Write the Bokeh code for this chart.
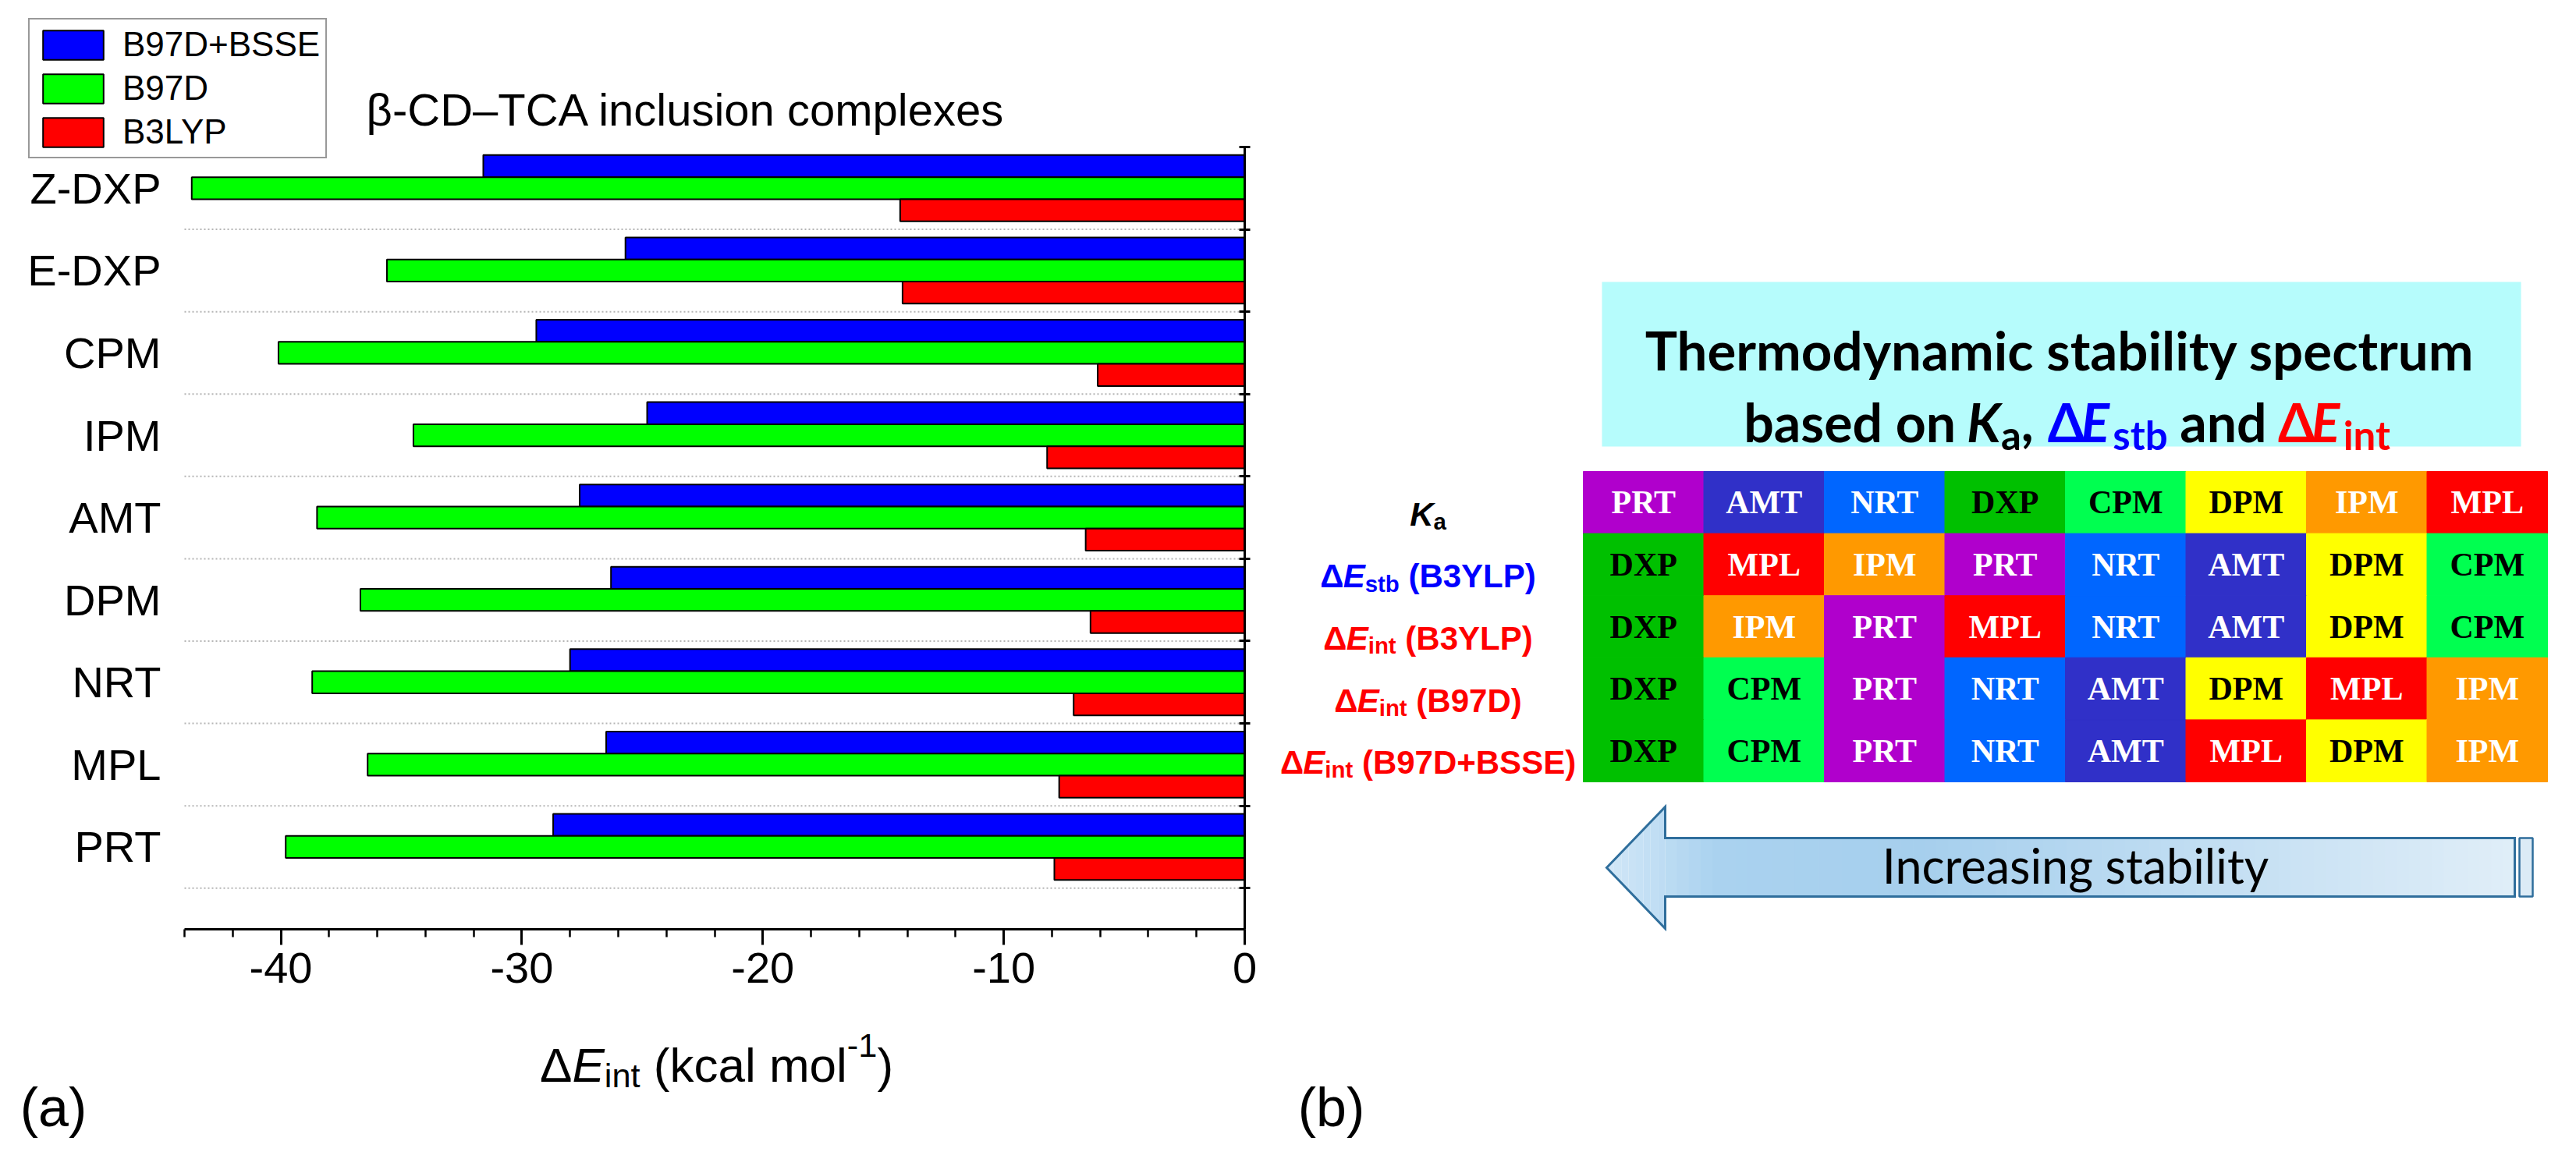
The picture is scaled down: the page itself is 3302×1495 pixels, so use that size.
import numpy as np
from bokeh.plotting import figure
from bokeh.models import (Range1d, FixedTicker, Label, Legend, LegendItem,
                          LinearAxis, ColumnDataSource)
from bokeh.transform import dodge
from bokeh.layouts import row
from bokeh.embed import file_html
from bokeh.resources import INLINE
from bokeh.core.properties import value

# ---------------- data ----------------
compounds = ["Z-DXP", "E-DXP", "CPM", "IPM", "AMT", "DPM", "NRT", "MPL", "PRT"]
e_b97d_bsse = [-31.6, -25.7, -29.4, -24.8, -27.6, -26.3, -28.0, -26.5, -28.7]
e_b97d = [-43.7, -35.6, -40.1, -34.5, -38.5, -36.7, -38.7, -36.4, -39.8]
e_b3lyp = [-14.3, -14.2, -6.1, -8.2, -6.6, -6.4, -7.1, -7.7, -7.9]
series_names = ["B97D+BSSE", "B97D", "B3LYP"]
x_major_ticks = [-40, -30, -20, -10, 0]
x_tick_labels = ["-40", "-30", "-20", "-10", "0"]

rank_ka = ["PRT", "AMT", "NRT", "DXP", "CPM", "DPM", "IPM", "MPL"]
rank_estb_b3lyp = ["DXP", "MPL", "IPM", "PRT", "NRT", "AMT", "DPM", "CPM"]
rank_eint_b3lyp = ["DXP", "IPM", "PRT", "MPL", "NRT", "AMT", "DPM", "CPM"]
rank_eint_b97d = ["DXP", "CPM", "PRT", "NRT", "AMT", "DPM", "MPL", "IPM"]
rank_eint_b97d_bsse = ["DXP", "CPM", "PRT", "NRT", "AMT", "MPL", "DPM", "IPM"]
rankings = [rank_ka, rank_estb_b3lyp, rank_eint_b3lyp, rank_eint_b97d, rank_eint_b97d_bsse]

# ---------------- styles ----------------
SERIES_COLORS = ["#0000ff", "#00ff00", "#ff0000"]
CELL_COLORS = {"PRT": "#b000cc", "AMT": "#3030c8", "NRT": "#0066ff", "DXP": "#00c000",
               "CPM": "#00ff50", "DPM": "#ffff00", "IPM": "#ff9900", "MPL": "#ff0000"}
DARK_TEXT = {"DXP", "CPM", "DPM"}
BLUE = "#0000ff"
RED = "#ff0000"
SANS = "Liberation Sans"

ARIAL = {' ': .278, '(': .333, ')': .333, '-': .333, '1': .556, 'a': .556, 'c': .5, 'k': .5,
         'l': .222, 'm': .833, 'o': .556, 'i': .222, 'n': .556, 't': .278, 'E': .667, 'Δ': .668}
ARIAL_B = {' ': .278, '(': .333, ')': .333, '+': .584, '3': .556, '7': .556, '9': .556,
           'B': .722, 'D': .722, 'E': .667, 'L': .611, 'P': .667, 'S': .667, 'Y': .667,
           'K': .722, 'a': .556, 'b': .611, 'i': .278, 'n': .611, 's': .556, 't': .333,
           'Δ': .70, 'd': .611, 'e': .556, 'o': .611, ',': .278}


def twidth(s, size, table, scale=1.0):
    return sum(table.get(ch, 0.556) for ch in s) * size * scale


def compose(fig, cx_fn, cy_fn, pieces, cx, base_y, size, table, font,
            wscale=1.0, sub_scale=0.7, sub_dy=0.22, sup_dy=-0.40):
    """pieces: (text, kind, color, style); positions given in page pixels."""
    items = []
    for t, kind, col, style in pieces:
        sz = size * sub_scale if kind in ("sub", "sup") else size
        items.append((t, kind, col, style, sz, twidth(t, sz, table, wscale)))
    total = sum(it[5] for it in items)
    x = cx - total / 2.0
    for t, kind, col, style, sz, w in items:
        dy = sub_dy * size if kind == "sub" else (sup_dy * size if kind == "sup" else 0.0)
        lead = len(t) - len(t.lstrip(' '))
        xs = x + twidth(' ' * lead, sz, table, wscale)
        fig.add_layout(Label(x=cx_fn(xs), y=cy_fn(base_y + dy), text=t.strip(' '),
                             text_font=font, text_font_size=f"{sz:.1f}px",
                             text_font_style=style, text_color=col,
                             text_align="left", text_baseline="alphabetic"))
        x += w


# ---------------- page layout (page pixels) ----------------
H = 1479
W1 = 1630
PAGE_X0, PAGE_Y0 = 8, 8
FR_L, FR_R, FR_T, FR_B = 244, 1603, 196, 1199   # bar-chart area
X0, X1 = -44, 0
Y0, Y1 = 0, 9.5


def lx(px):
    return X0 + (px - FR_L) * (X1 - X0) / (FR_R - FR_L)


def ly(py):
    return Y0 + (FR_B - py) * (Y1 - Y0) / (FR_B - FR_T)


p1 = figure(width=W1, height=H,
            x_range=Range1d(lx(PAGE_X0), lx(PAGE_X0 + W1)),
            y_range=Range1d(ly(PAGE_Y0 + H), ly(PAGE_Y0)),
            output_backend="svg", toolbar_location=None, title=None,
            x_axis_location=None, y_axis_location=None, min_border=0)
p1.outline_line_color = None
p1.grid.visible = False
p1.background_fill_color = "white"
p1.border_fill_color = "white"

# bottom axis fixed at y = 0
xa = LinearAxis(fixed_location=Y0, bounds=(X0, X1),
                ticker=FixedTicker(ticks=x_major_ticks, minor_ticks=list(range(-44, 1, 2))),
                major_label_overrides={t: s for t, s in zip(x_major_ticks, x_tick_labels)},
                axis_line_width=3, axis_line_color="black",
                major_tick_line_width=3, major_tick_line_color="black",
                major_tick_out=20, major_tick_in=0,
                minor_tick_line_width=2.5, minor_tick_line_color="black",
                minor_tick_out=10, minor_tick_in=0,
                major_label_text_font=SANS, major_label_text_font_size="56px",
                major_label_text_color="black", major_label_standoff=10)
p1.add_layout(xa, "below")

n = len(compounds)
ys = [n - i for i in range(n)]

ya = LinearAxis(fixed_location=X0, bounds=(Y0, Y1), ticker=FixedTicker(ticks=ys),
                major_label_overrides={y: c for y, c in zip(ys, compounds)},
                axis_line_color=None, major_tick_line_color=None, minor_tick_line_color=None,
                major_label_standoff=24, major_label_text_font=SANS,
                major_label_text_font_size="56px", major_label_text_color="black")
p1.add_layout(ya, "left")

bounds = [k + 0.5 for k in range(n + 1)]
ra = LinearAxis(fixed_location=X1, bounds=(Y0, Y1), ticker=FixedTicker(ticks=bounds),
                major_label_overrides={b: "" for b in bounds},
                axis_line_width=3, axis_line_color="black",
                major_tick_in=7, major_tick_out=7, major_tick_line_width=3,
                major_tick_line_color="black", minor_tick_line_color=None,
                major_label_text_font_size="1px", major_label_standoff=0)
p1.add_layout(ra, "right")

# dotted separators between compound groups
sep = bounds[:-1]
p1.segment(x0=[X0] * len(sep), x1=[X1] * len(sep), y0=sep, y1=sep,
           line_color="#b5b5b5", line_width=2, line_dash="2 3")

src = ColumnDataSource(dict(y=ys, bsse=e_b97d_bsse, b97d=e_b97d, b3lyp=e_b3lyp))
BAR_H = 0.268
BAR_OFF = 0.268
renderers = []
for col, off, color in zip(["bsse", "b97d", "b3lyp"], [BAR_OFF, 0.0, -BAR_OFF], SERIES_COLORS):
    r = p1.hbar(y=dodge("y", off), left=0, right=col, height=BAR_H, source=src,
                fill_color=color, line_color="black", line_width=2)
    renderers.append(r)

legend = Legend(items=[LegendItem(label=nm, renderers=[r]) for nm, r in zip(series_names, renderers)],
                location=(44 - PAGE_X0, PAGE_Y0 + H - 211), orientation="vertical",
                glyph_width=97, glyph_height=47, label_standoff=15, spacing=6,
                padding=7, margin=0, label_text_font=SANS, label_text_font_size="44px",
                label_text_color="black", border_line_color="#333333", border_line_width=2,
                background_fill_color="white", background_fill_alpha=1.0)
p1.add_layout(legend)

p1.add_layout(Label(x=lx(887), y=ly(148), text="β-CD–TCA inclusion complexes",
                    text_font=SANS, text_font_size="58px", text_color="black",
                    text_align="center", text_baseline="middle"))

compose(p1, lx, ly,
        [("Δ", "main", "black", "normal"), ("E", "main", "black", "italic"),
         ("int", "sub", "black", "normal"), (" (kcal mol", "main", "black", "normal"),
         ("-1", "sup", "black", "normal"), (")", "main", "black", "normal")],
        926, 1373, 62, ARIAL, SANS)

p1.add_layout(Label(x=lx(76), y=ly(1427), text="(a)", text_font=SANS, text_font_size="70px",
                    text_color="black", text_align="center", text_baseline="middle"))

# ---------------- right panel ----------------
RX0 = PAGE_X0 + W1
W2 = 3294 - RX0
GL, GR, GT, GB = 2037, 3273, 612, 1010
ncol, nrow = 8, 5
cw = (GR - GL) / ncol
rh = (GB - GT) / nrow


def gx(px):
    return (px - GL) / cw


def gy(py):
    return (GB - py) / rh


p2 = figure(width=W2, height=H, x_range=Range1d(gx(RX0), gx(RX0 + W2)),
            y_range=Range1d(gy(PAGE_Y0 + H), gy(PAGE_Y0)), x_axis_location=None,
            y_axis_location=None, title=None, toolbar_location=None,
            output_backend="svg", min_border=0)
p2.outline_line_color = None
p2.grid.visible = False
p2.background_fill_color = "white"
p2.border_fill_color = "white"

# title box
p2.quad(left=gx(2061), right=gx(3239), top=gy(369), bottom=gy(580),
        fill_color="#b6fcfc", line_color=None)
p2.add_layout(Label(x=gx(2648), y=gy(456), text="Thermodynamic stability spectrum",
                    text_font="Lato", text_font_size="69px", text_font_style="bold",
                    text_color="black", text_align="center", text_baseline="alphabetic"))
compose(p2, gx, gy,
        [("based on ", "main", "black", "bold"), ("K", "main", "black", "bold italic"),
         ("a", "sub", "black", "bold"), (", ", "main", "black", "bold"),
         ("Δ", "main", BLUE, "bold"), ("E", "main", BLUE, "bold italic"),
         ("stb", "sub", BLUE, "bold"), (" and ", "main", "black", "bold"),
         ("Δ", "main", RED, "bold"), ("E", "main", RED, "bold italic"),
         ("int", "sub", RED, "bold")],
        2655, 548, 68, ARIAL_B, "Lato", wscale=0.9, sub_scale=0.75, sub_dy=0.25)

# ranking grid
cx_, cy_, nm_, fc_, tc_ = [], [], [], [], []
for r_i, lst in enumerate(rankings):
    for c_i, nm in enumerate(lst):
        cx_.append(c_i + 0.5)
        cy_.append(nrow - r_i - 0.5)
        nm_.append(nm)
        fc_.append(CELL_COLORS[nm])
        tc_.append("black" if nm in DARK_TEXT else "white")
gsrc = ColumnDataSource(dict(x=cx_, y=cy_, name=nm_, fc=fc_, tc=tc_))
p2.rect(x="x", y="y", width=1, height=1, source=gsrc, fill_color="fc", line_color="fc",
        line_width=1)
p2.text(x="x", y="y", text="name", source=gsrc, text_font=value("Liberation Serif"),
        text_font_style="bold", text_font_size="42px", text_align="center",
        text_baseline="middle", text_color="tc")

# row labels
row_pieces = [
    [("K", "main", "black", "bold italic"), ("a", "sub", "black", "bold")],
    [("Δ", "main", BLUE, "bold"), ("E", "main", BLUE, "bold italic"), ("stb", "sub", BLUE, "bold"),
     (" (B3YLP)", "main", BLUE, "bold")],
    [("Δ", "main", RED, "bold"), ("E", "main", RED, "bold italic"), ("int", "sub", RED, "bold"),
     (" (B3YLP)", "main", RED, "bold")],
    [("Δ", "main", RED, "bold"), ("E", "main", RED, "bold italic"), ("int", "sub", RED, "bold"),
     (" (B97D)", "main", RED, "bold")],
    [("Δ", "main", RED, "bold"), ("E", "main", RED, "bold italic"), ("int", "sub", RED, "bold"),
     (" (B97D+BSSE)", "main", RED, "bold")],
]
for r_i, pcs in enumerate(row_pieces):
    center = GT + (r_i + 0.5) * rh
    compose(p2, gx, gy, pcs, 1838, center + 15, 42, ARIAL_B, SANS)

# arrow with horizontal gradient
TIP_X, TIP_Y = 2067, 1120
HEAD_X, HEAD_T, HEAD_B = 2142, 1042, 1198
BODY_T, BODY_B, BODY_R = 1082, 1157, 3231
stops = [(0.0, (210, 231, 247)), (0.12, (170, 210, 239)), (0.35, (166, 207, 237)),
         (1.0, (224, 238, 248))]


def grad(f):
    for (f0, c0), (f1, c1) in zip(stops[:-1], stops[1:]):
        if f <= f1:
            t = (f - f0) / (f1 - f0) if f1 > f0 else 0
            c = [int(round(a + (b - a) * t)) for a, b in zip(c0, c1)]
            return "#%02x%02x%02x" % tuple(c)
    return "#%02x%02x%02x" % stops[-1][1]


def half_h(x):
    return (x - TIP_X) / (HEAD_X - TIP_X) * (HEAD_B - HEAD_T) / 2.0


edges = list(np.linspace(TIP_X, HEAD_X, 9)) + list(np.linspace(HEAD_X, BODY_R, 73))[1:]
pxs, pys, pcols = [], [], []
for a, b in zip(edges[:-1], edges[1:]):
    if b <= HEAD_X + 1e-6:
        xs_ = [a, b, b, a]
        ys_ = [TIP_Y - half_h(a), TIP_Y - half_h(b), TIP_Y + half_h(b), TIP_Y + half_h(a)]
    else:
        xs_ = [a, b + 0.8, b + 0.8, a]
        ys_ = [BODY_T, BODY_T, BODY_B, BODY_B]
    pxs.append([gx(v) for v in xs_])
    pys.append([gy(v) for v in ys_])
    pcols.append(grad(((a + b) / 2 - TIP_X) / (BODY_R - TIP_X)))
p2.patches(xs=pxs, ys=pys, fill_color=pcols, line_color=None)
outline = [(TIP_X, TIP_Y), (HEAD_X, HEAD_T), (HEAD_X, BODY_T), (BODY_R, BODY_T),
           (BODY_R, BODY_B), (HEAD_X, BODY_B), (HEAD_X, HEAD_B)]
p2.patch(x=[gx(a) for a, _ in outline], y=[gy(b) for _, b in outline], fill_color=None,
         line_color="#2f6e9c", line_width=3, line_join="miter")
p2.quad(left=gx(3237), right=gx(3254), top=gy(BODY_T), bottom=gy(BODY_B),
        fill_color="#dcebf6", line_color="#2f6e9c", line_width=2.5)
p2.add_layout(Label(x=gx(2668), y=gy(1117), text="Increasing stability", text_font="Lato",
                    text_font_size="61px", text_color="black", text_align="center",
                    text_baseline="middle"))

p2.add_layout(Label(x=gx(1714), y=gy(1427), text="(b)", text_font=SANS, text_font_size="70px",
                    text_color="black", text_align="center", text_baseline="middle"))

layout = row(p1, p2, spacing=0)
open("out.html", "w").write(file_html(layout, INLINE))
